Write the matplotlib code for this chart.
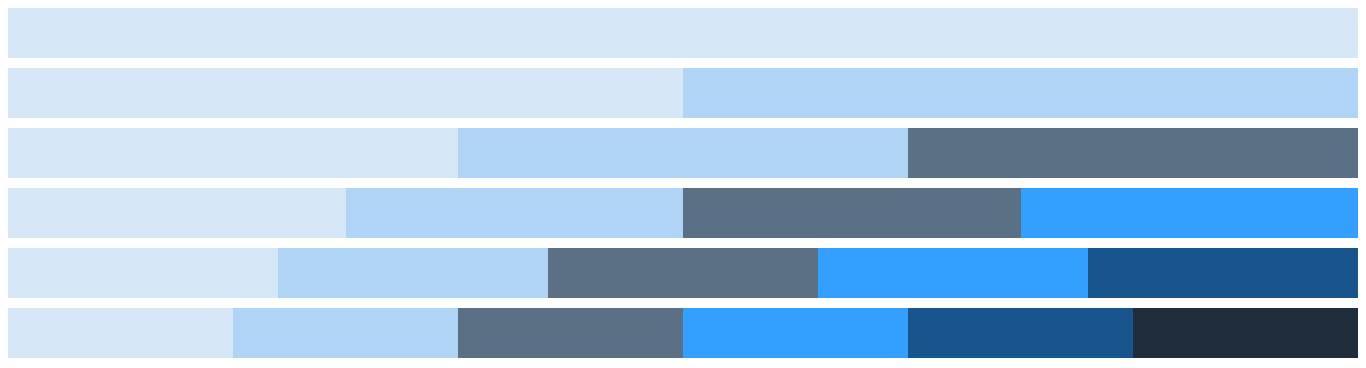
import matplotlib
matplotlib.use("Agg")
import matplotlib.pyplot as plt

# number of equal parts in each row
row_parts = [1, 2, 3, 4, 5, 6]
palette = ['#D6E7F7', '#B0D4F5', '#5B7085', '#33A0FF', '#17558C', '#1F2D3D']

W, H = 1366, 368
fig = plt.figure(figsize=(W / 100, H / 100), dpi=100)
ax = fig.add_axes([8 / W, 10 / H, 1350 / W, 350 / H])

bar_h = 5 / 6
for row, n in enumerate(row_parts):
    width = 1 / n
    for k in range(n):
        ax.barh(row, width, left=k * width, height=bar_h,
                color=palette[k], linewidth=0)

ax.set_xlim(0, 1)
ax.set_ylim(len(row_parts) - 1 + bar_h / 2, -bar_h / 2)
ax.axis('off')

fig.savefig('out.png', dpi=100)
